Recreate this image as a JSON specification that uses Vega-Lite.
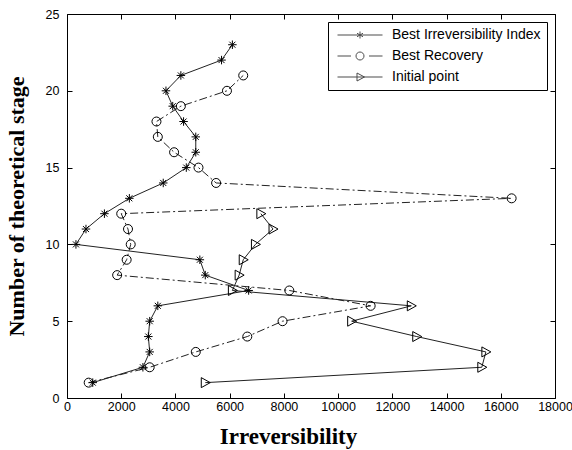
{
  "$schema": "https://vega.github.io/schema/vega-lite/v6.json",
  "width": 488,
  "height": 384,
  "autosize": {"type": "none"},
  "padding": {"left": 67, "top": 14, "right": 17, "bottom": 52},
  "background": "white",
  "config": {
    "view": {"stroke": "black", "strokeWidth": 1},
    "axis": {
      "grid": false,
      "domain": false,
      "tickColor": "black",
      "tickWidth": 1,
      "tickSize": -5,
      "labelOverlap": false,
      "labelFlush": false,
      "labelColor": "black",
      "labelFont": "Liberation Sans",
      "labelFontSize": 12.5,
      "titleColor": "black",
      "titleFont": "Liberation Serif",
      "titleFontWeight": "bold",
      "titleFontSize": 22
    }
  },
  "data": {
    "values": [
      {"series": "Best Irreversibility Index", "stage": 1, "irr": 950},
      {"series": "Best Irreversibility Index", "stage": 2, "irr": 2800},
      {"series": "Best Irreversibility Index", "stage": 3, "irr": 3050},
      {"series": "Best Irreversibility Index", "stage": 4, "irr": 3000},
      {"series": "Best Irreversibility Index", "stage": 5, "irr": 3050},
      {"series": "Best Irreversibility Index", "stage": 6, "irr": 3350},
      {"series": "Best Irreversibility Index", "stage": 7, "irr": 6700},
      {"series": "Best Irreversibility Index", "stage": 8, "irr": 5100},
      {"series": "Best Irreversibility Index", "stage": 9, "irr": 4900},
      {"series": "Best Irreversibility Index", "stage": 10, "irr": 330},
      {"series": "Best Irreversibility Index", "stage": 11, "irr": 700},
      {"series": "Best Irreversibility Index", "stage": 12, "irr": 1380},
      {"series": "Best Irreversibility Index", "stage": 13, "irr": 2300},
      {"series": "Best Irreversibility Index", "stage": 14, "irr": 3550},
      {"series": "Best Irreversibility Index", "stage": 15, "irr": 4400},
      {"series": "Best Irreversibility Index", "stage": 16, "irr": 4750},
      {"series": "Best Irreversibility Index", "stage": 17, "irr": 4750},
      {"series": "Best Irreversibility Index", "stage": 18, "irr": 4300},
      {"series": "Best Irreversibility Index", "stage": 19, "irr": 3900},
      {"series": "Best Irreversibility Index", "stage": 20, "irr": 3650},
      {"series": "Best Irreversibility Index", "stage": 21, "irr": 4200},
      {"series": "Best Irreversibility Index", "stage": 22, "irr": 5700},
      {"series": "Best Irreversibility Index", "stage": 23, "irr": 6100},
      {"series": "Best Recovery", "stage": 1, "irr": 800},
      {"series": "Best Recovery", "stage": 2, "irr": 3050},
      {"series": "Best Recovery", "stage": 3, "irr": 4750},
      {"series": "Best Recovery", "stage": 4, "irr": 6650},
      {"series": "Best Recovery", "stage": 5, "irr": 7950},
      {"series": "Best Recovery", "stage": 6, "irr": 11200},
      {"series": "Best Recovery", "stage": 7, "irr": 8200},
      {"series": "Best Recovery", "stage": 8, "irr": 1850},
      {"series": "Best Recovery", "stage": 9, "irr": 2200},
      {"series": "Best Recovery", "stage": 10, "irr": 2350},
      {"series": "Best Recovery", "stage": 11, "irr": 2250},
      {"series": "Best Recovery", "stage": 12, "irr": 2000},
      {"series": "Best Recovery", "stage": 13, "irr": 16400},
      {"series": "Best Recovery", "stage": 14, "irr": 5500},
      {"series": "Best Recovery", "stage": 15, "irr": 4850},
      {"series": "Best Recovery", "stage": 16, "irr": 3950},
      {"series": "Best Recovery", "stage": 17, "irr": 3350},
      {"series": "Best Recovery", "stage": 18, "irr": 3300},
      {"series": "Best Recovery", "stage": 19, "irr": 4200},
      {"series": "Best Recovery", "stage": 20, "irr": 5900},
      {"series": "Best Recovery", "stage": 21, "irr": 6500},
      {"series": "Initial point", "stage": 1, "irr": 5100},
      {"series": "Initial point", "stage": 2, "irr": 15300},
      {"series": "Initial point", "stage": 3, "irr": 15450},
      {"series": "Initial point", "stage": 4, "irr": 12900},
      {"series": "Initial point", "stage": 5, "irr": 10500},
      {"series": "Initial point", "stage": 6, "irr": 12700},
      {"series": "Initial point", "stage": 7, "irr": 6100},
      {"series": "Initial point", "stage": 8, "irr": 6350},
      {"series": "Initial point", "stage": 9, "irr": 6500},
      {"series": "Initial point", "stage": 10, "irr": 6950},
      {"series": "Initial point", "stage": 11, "irr": 7600},
      {"series": "Initial point", "stage": 12, "irr": 7150}
    ]
  },
  "layer": [
    {
      "transform": [{"filter": "datum.series === 'Best Irreversibility Index'"}],
      "mark": {"type": "line", "stroke": "#222222", "strokeWidth": 1},
      "encoding": {
        "x": {
          "field": "irr",
          "type": "quantitative",
          "scale": {"domain": [0, 18000], "nice": false},
          "axis": {"orient": "top", "labels": false, "title": null, "values": [0, 2000, 4000, 6000, 8000, 10000, 12000, 14000, 16000, 18000]}
        },
        "y": {
          "field": "stage",
          "type": "quantitative",
          "scale": {"domain": [0, 25], "nice": false},
          "axis": {"orient": "right", "labels": false, "title": null, "values": [0, 5, 10, 15, 20, 25]}
        },
        "order": {"field": "stage", "type": "quantitative"}
      }
    },
    {
      "transform": [{"filter": "datum.series === 'Best Recovery'"}],
      "mark": {"type": "line", "stroke": "#222222", "strokeWidth": 1, "strokeDash": [8, 3, 2, 3]},
      "encoding": {
        "x": {"field": "irr", "type": "quantitative", "axis": null},
        "y": {"field": "stage", "type": "quantitative", "axis": null},
        "order": {"field": "stage", "type": "quantitative"}
      }
    },
    {
      "transform": [{"filter": "datum.series === 'Initial point'"}],
      "mark": {"type": "line", "stroke": "#222222", "strokeWidth": 1},
      "encoding": {
        "x": {"field": "irr", "type": "quantitative", "axis": null},
        "y": {"field": "stage", "type": "quantitative", "axis": null},
        "order": {"field": "stage", "type": "quantitative"}
      }
    },
    {
      "transform": [{"filter": "datum.series === 'Best Irreversibility Index'"}],
      "mark": {
        "type": "point",
        "shape": "M0,-0.85V0.85M-0.85,0H0.85M-0.6,-0.6L0.6,0.6M-0.6,0.6L0.6,-0.6",
        "filled": false,
        "stroke": "black",
        "strokeWidth": 1,
        "size": 100,
        "opacity": 1
      },
      "encoding": {
        "x": {
          "field": "irr",
          "type": "quantitative",
          "title": "Irreversibility",
          "axis": {
            "orient": "bottom",
            "values": [0, 2000, 4000, 6000, 8000, 10000, 12000, 14000, 16000, 18000],
            "format": "d",
            "labelPadding": 7,
            "titleFontSize": 23,
            "titleX": 221,
            "titleY": 45,
            "titleAlign": "center",
            "titleBaseline": "alphabetic"
          }
        },
        "y": {
          "field": "stage",
          "type": "quantitative",
          "title": "Number of theoretical stage",
          "axis": {
            "orient": "left",
            "values": [0, 5, 10, 15, 20, 25],
            "labelPadding": 13,
            "titleX": -44,
            "titleBaseline": "alphabetic"
          }
        }
      }
    },
    {
      "transform": [{"filter": "datum.series === 'Best Recovery'"}],
      "mark": {
        "type": "point",
        "shape": "M0.9,0A0.9,0.9 0 1,1 -0.9,0A0.9,0.9 0 1,1 0.9,0Z",
        "filled": false,
        "stroke": "black",
        "strokeWidth": 1,
        "size": 100,
        "opacity": 1
      },
      "encoding": {
        "x": {"field": "irr", "type": "quantitative", "axis": null},
        "y": {"field": "stage", "type": "quantitative", "axis": null}
      }
    },
    {
      "transform": [{"filter": "datum.series === 'Initial point'"}],
      "mark": {
        "type": "point",
        "shape": "M-0.8,-1L1,0L-0.8,1Z",
        "filled": false,
        "stroke": "black",
        "strokeWidth": 1,
        "size": 100,
        "opacity": 1
      },
      "encoding": {
        "x": {"field": "irr", "type": "quantitative", "axis": null},
        "y": {"field": "stage", "type": "quantitative", "axis": null}
      }
    },
    {
      "description": "Legend key: a short line sample with the series marker on it",
      "transform": [{"filter": "datum.stage < 0"}],
      "mark": {"type": "point", "filled": false, "stroke": "black", "strokeWidth": 1},
      "encoding": {
        "x": {"field": "irr", "type": "quantitative", "axis": null},
        "y": {"field": "stage", "type": "quantitative", "axis": null},
        "shape": {
          "field": "series",
          "type": "nominal",
          "scale": {
            "domain": ["Best Irreversibility Index", "Best Recovery", "Initial point"],
            "range": [
              "M-4.5,0H4.5M0,-0.7V0.7M-0.6,-0.35L0.6,0.35M-0.6,0.35L0.6,-0.35",
              "M-4.5,0H-1.8M1.8,0H4.5M0.8,0A0.8,0.8 0 1,1 -0.8,0A0.8,0.8 0 1,1 0.8,0Z",
              "M-4.5,0H4.5M-0.6,-0.8L0.9,0L-0.6,0.8Z"
            ]
          },
          "legend": {
            "title": null,
            "orient": "top-right",
            "offset": 8,
            "padding": 6,
            "strokeColor": "black",
            "fillColor": "white",
            "cornerRadius": 0,
            "labelFont": "Liberation Sans",
            "labelFontSize": 14,
            "labelColor": "black",
            "symbolSize": 100,
            "symbolStrokeWidth": 1,
            "symbolStrokeColor": "black",
            "symbolFillColor": "transparent",
            "symbolOffset": 19,
            "labelOffset": 25,
            "rowPadding": 7
          }
        }
      }
    }
  ]
}
